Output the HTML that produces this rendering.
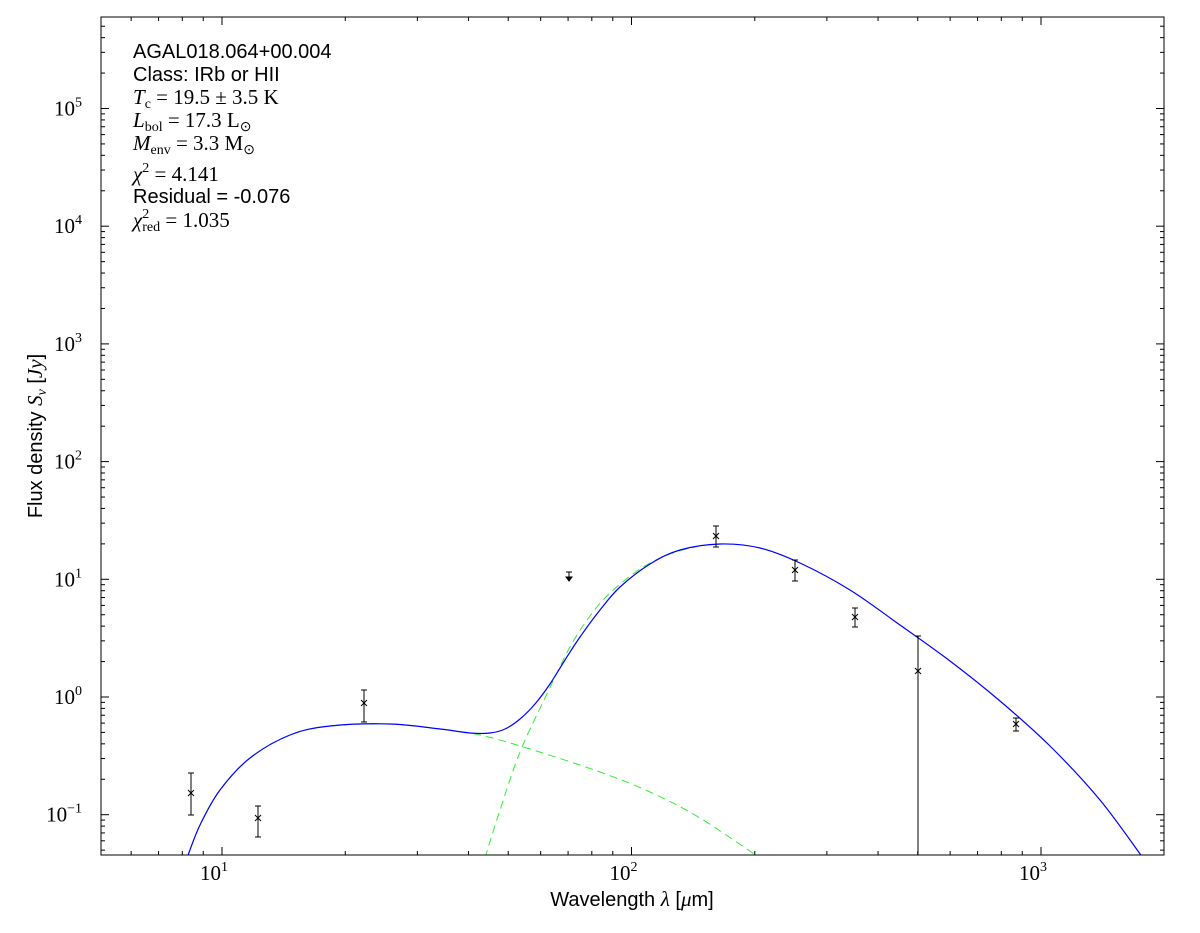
<!DOCTYPE html>
<html><head><meta charset="utf-8"><style>
body{margin:0;background:#fff;width:1200px;height:933px;overflow:hidden}
svg{display:block}
.s{font-family:"Liberation Sans",sans-serif;font-size:20px}
.m{font-family:"Liberation Serif",serif;font-size:21px}
.i{font-style:italic}
</style></head><body>
<svg id="c" width="1200" height="933" xmlns="http://www.w3.org/2000/svg">
<rect x="0" y="0" width="1200" height="933" fill="#fff"/>
<g id="ticks" stroke="#000" stroke-width="1"></g>
<clipPath id="cp"><rect x="101" y="17" width="1063" height="838"/></clipPath>
<g clip-path="url(#cp)" fill="none" id="curves"></g>
<g id="pts" stroke="#000" stroke-width="1" fill="none"></g>
<rect x="101" y="17" width="1063" height="838" fill="none" stroke="#000" stroke-width="1"/>
<text x="133" y="58" class="s">AGAL018.064+00.004</text>
<text x="133" y="81" class="s">Class: IRb or HII</text>
<text x="133" y="104" class="m"><tspan class="i">T</tspan><tspan font-size="14" dy="4">c</tspan><tspan dy="-4"> = 19.5 ± 3.5 K</tspan></text>
<text x="133" y="127" class="m"><tspan class="i">L</tspan><tspan font-size="14" dy="4">bol</tspan><tspan dy="-4"> = 17.3 L</tspan><tspan font-size="14" dy="4">⊙</tspan></text>
<text x="133" y="150" class="m"><tspan class="i">M</tspan><tspan font-size="14" dy="4">env</tspan><tspan dy="-4"> = 3.3 M</tspan><tspan font-size="14" dy="4">⊙</tspan></text>
<text x="133" y="181" class="m"><tspan class="i">χ</tspan><tspan font-size="14" dy="-9">2</tspan><tspan dy="9"> = 4.141</tspan></text>
<text x="133" y="203" class="s">Residual = -0.076</text>
<text x="133" y="227" class="m"><tspan class="i">χ</tspan><tspan font-size="14" dy="-9">2</tspan><tspan font-size="14" dx="-7" dy="13">red</tspan><tspan dy="-4"> = 1.035</tspan></text>
<text x="632" y="906" class="s" text-anchor="middle">Wavelength <tspan class="i" font-family="Liberation Serif" font-size="21">λ</tspan> [<tspan class="i" font-family="Liberation Serif" font-size="21">μ</tspan>m]</text>
<text transform="translate(42,436) rotate(-90)" class="s" text-anchor="middle">Flux density <tspan class="i" font-family="Liberation Serif" font-size="21">S<tspan font-size="14" dy="4">ν</tspan></tspan><tspan dy="-4"> [</tspan><tspan class="i" font-family="Liberation Serif" font-size="21">Jy</tspan>]</text>
<g id="lbl" class="m"></g>
</svg>
<script>
var NS="http://www.w3.org/2000/svg";
function el(p,t,a,txt){var e=document.createElementNS(NS,t);for(var k in a)e.setAttribute(k,a[k]);if(txt)e.textContent=txt;p.appendChild(e);return e;}
function smooth(pts){var d='M'+pts[0][0]+','+pts[0][1];for(var i=0;i<pts.length-1;i++){var p0=pts[i-1]||pts[i],p1=pts[i],p2=pts[i+1],p3=pts[i+2]||p2;
d+=' C'+(p1[0]+(p2[0]-p0[0])/6)+','+(p1[1]+(p2[1]-p0[1])/6)+' '+(p2[0]-(p3[0]-p1[0])/6)+','+(p2[1]-(p3[1]-p1[1])/6)+' '+p2[0]+','+p2[1];}return d;}
var C=document.getElementById('curves');
el(C,'path',{d:smooth([[187,858],[200,825],[220,790],[250,758],[290,735],[330,726],[390,724],[440,729],[480,735],[530,749],[600,772],[650,792],[700,818],[760,858]]),stroke:'#33ee33','stroke-width':1,'stroke-dasharray':'8,5'});
el(C,'path',{d:smooth([[485,858],[500,810],[520,752],[545,698],[570,647],[590,616],[610,593],[640,569],[670,554],[700,546],[720,544]]),stroke:'#33ee33','stroke-width':1,'stroke-dasharray':'8,5'});
el(C,'path',{d:smooth([[187,858],[200,825],[220,790],[250,758],[290,735],[330,726],[390,724],[440,729],[470,733],[490,733],[505,729],[520,719],[535,704],[550,684],[565,660],[580,637],[600,610],[620,587],[650,564],[680,550],[720,544],[760,548],[800,563],[850,590],[900,625],[950,661],[1000,701],[1050,746],[1100,800],[1143,858]]),stroke:'#0000ff','stroke-width':1.2});
var X=function(l){return 222+409.5*Math.log10(l/10)},Y=function(s){return 697-117.7*Math.log10(s)};
var T=document.getElementById('ticks'),L=document.getElementById('lbl');
for(var d=0;d<4;d++)for(var k=1;k<10;k++){var l=k*Math.pow(10,d);var x=X(l);if(x<101||x>1164)continue;var len=k==1?8:4;
el(T,'line',{x1:x,x2:x,y1:855,y2:855-len});el(T,'line',{x1:x,x2:x,y1:17,y2:17+len});
if(k==1){var t=el(L,'text',{x:x-8,y:880,'text-anchor':'middle'},'10');el(t,'tspan',{'font-size':14,dy:-9},String(d));}}
for(var d=-2;d<6;d++)for(var k=1;k<10;k++){var s=k*Math.pow(10,d);var y=Y(s);if(y<17||y>855)continue;var len=k==1?8:4;
el(T,'line',{x1:101,x2:101+len,y1:y,y2:y});el(T,'line',{x1:1164,x2:1164-len,y1:y,y2:y});
if(k==1){var t=el(L,'text',{x:82,y:y+7,'text-anchor':'end'},'10');el(t,'tspan',{'font-size':14,dy:-9},d<0?'−'+(-d):String(d));}}
var P=document.getElementById('pts');
var pts=[[191,793,773,815],[258,818,806,837],[364,703,690,722],[716,536,526,547],[795,570,560,581],[855,617,608,627],[918,671,636,855],[1016,724,718,731]];
pts.forEach(function(p){el(P,'line',{x1:p[0],x2:p[0],y1:p[2],y2:p[3]});el(P,'line',{x1:p[0]-3,x2:p[0]+3,y1:p[2],y2:p[2]});el(P,'line',{x1:p[0]-3,x2:p[0]+3,y1:p[3],y2:p[3]});
el(P,'line',{x1:p[0]-3,x2:p[0]+3,y1:p[1]-3,y2:p[1]+3});el(P,'line',{x1:p[0]-3,x2:p[0]+3,y1:p[1]+3,y2:p[1]-3});});
el(P,'line',{x1:569,x2:569,y1:572,y2:580});el(P,'line',{x1:566,x2:572,y1:572,y2:572});
el(P,'path',{d:'M566,577 L569,581 L572,577 Z',fill:'#000'});
</script>
</body></html>
